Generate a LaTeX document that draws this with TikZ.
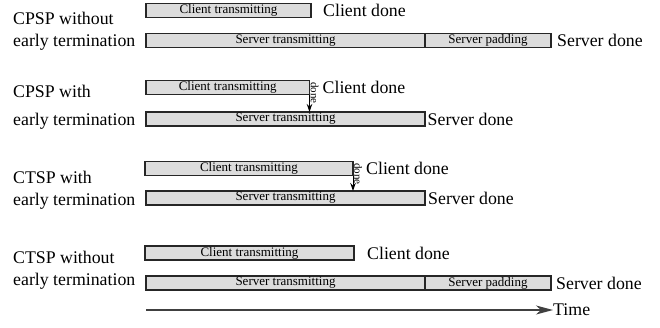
\documentclass[tikz,border=0pt]{standalone}
\usepackage{fontspec}
\setmainfont{Liberation Serif}
\usetikzlibrary{arrows.meta}
\definecolor{barfill}{RGB}{220,220,220}

\begin{document}
\begin{tikzpicture}[x=1pt,y=-1pt,
   bar/.style={draw=black!85,line width=1.2pt,fill=barfill,inner sep=0pt,outer sep=0pt,minimum height=14pt,anchor=west,font=\fontsize{13}{13}\selectfont},
   rowlabel/.style={anchor=west,align=left,inner sep=0pt,font=\fontsize{17.8}{22}\selectfont},
   endlabel/.style={anchor=west,inner sep=0pt,font=\fontsize{17.8}{22}\selectfont},
   donetag/.style={rotate=-90,anchor=south,inner sep=1pt,font=\fontsize{11}{11}\selectfont},
   stoparrow/.style={-{Stealth[length=8pt,width=5.5pt]},line width=1pt}]
   \useasboundingbox (0,0) rectangle (660,327);
   \node[rowlabel] (l1) at (13,31.5) {CPSP without\\early termination};
   \node[bar,minimum width=165pt] (c1) at (146,10.5) {Client transmitting};
   \node[bar,minimum width=279pt] (s1) at (146,40.5) {Server transmitting};
   \node[bar,minimum width=126pt] (p1) at (s1.east) {Server padding};
   \node[endlabel] (cd1) at ([xshift=12pt]c1.east) {Client done};
   \node[endlabel] (sd1) at ([xshift=6pt]p1.east) {Server done};
   \node[rowlabel] (l2) at (13,107) {CPSP with\\[6pt]early termination};
   \node[bar,minimum width=163.5pt] (c2) at (146,87.5) {Client transmitting};
   \node[bar,minimum width=279pt] (s2) at (146,119) {Server transmitting};
   \draw[stoparrow] (c2.south east) -- (c2.south east |- s2.north);
   \node[donetag] (t2) at ([yshift=1.5pt]c2.south east) {done};
   \node[endlabel] (cd2) at ([xshift=13pt]c2.east) {Client done};
   \node[endlabel] (sd2) at ([xshift=2.5pt]s2.east) {Server done};
   \node[rowlabel] (l3) at (13,190) {CTSP with\\early termination};
   \node[bar,minimum width=208pt] (c3) at (145,168.5) {Client transmitting};
   \node[bar,minimum width=279pt] (s3) at (146,198) {Server transmitting};
   \draw[stoparrow] (c3.south east) -- (c3.south east |- s3.north);
   \node[donetag] (t3) at ([yshift=1.5pt]c3.south east) {done};
   \node[endlabel] (cd3) at ([xshift=13pt]c3.east) {Client done};
   \node[endlabel] (sd3) at ([xshift=3pt]s3.east) {Server done};
   \node[rowlabel] (l4) at (13,270.5) {CTSP without\\early termination};
   \node[bar,minimum width=209pt] (c4) at (145,253) {Client transmitting};
   \node[bar,minimum width=279pt] (s4) at (146,283) {Server transmitting};
   \node[bar,minimum width=126pt] (p4) at (s4.east) {Server padding};
   \node[endlabel] (cd4) at ([xshift=13pt]c4.east) {Client done};
   \node[endlabel] (sd4) at ([xshift=5pt]p4.east) {Server done};
   \coordinate (t0) at (146,310);
   \node[endlabel] (time) at (553,310) {Time};
   \draw[-{Stealth[length=17pt,width=9pt,inset=5pt]},line width=1.2pt,black!75] (t0) -- (time.west);
\end{tikzpicture}
\end{document}
